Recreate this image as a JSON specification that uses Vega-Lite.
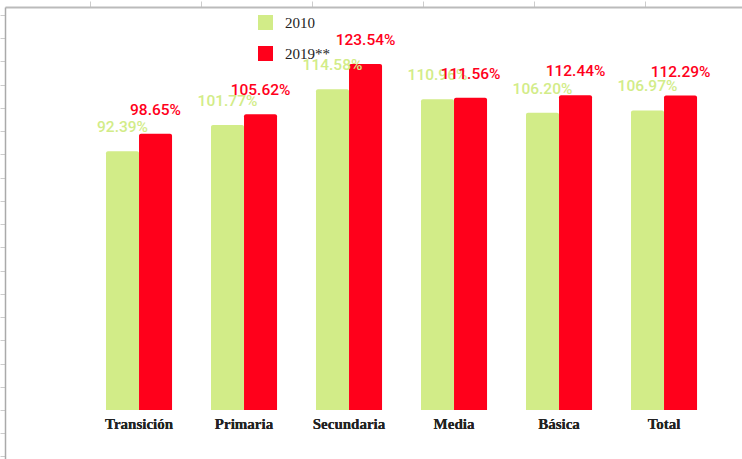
{
  "$schema": "https://vega.github.io/schema/vega-lite/v6.json",
  "width": 737,
  "height": 452,
  "autosize": {"type": "none"},
  "padding": {"left": 5, "top": 7, "right": 0, "bottom": 0},
  "background": "white",
  "config": {"view": {"stroke": null}},
  "data": {
    "values": [
      {"nivel": "Transición", "anio": "2010", "valor": 92.39, "etiqueta": "92.39%"},
      {"nivel": "Transición", "anio": "2019**", "valor": 98.65, "etiqueta": "98.65%"},
      {"nivel": "Primaria", "anio": "2010", "valor": 101.77, "etiqueta": "101.77%"},
      {"nivel": "Primaria", "anio": "2019**", "valor": 105.62, "etiqueta": "105.62%"},
      {"nivel": "Secundaria", "anio": "2010", "valor": 114.58, "etiqueta": "114.58%"},
      {"nivel": "Secundaria", "anio": "2019**", "valor": 123.54, "etiqueta": "123.54%"},
      {"nivel": "Media", "anio": "2010", "valor": 110.96, "etiqueta": "110.96%"},
      {"nivel": "Media", "anio": "2019**", "valor": 111.56, "etiqueta": "111.56%"},
      {"nivel": "Básica", "anio": "2010", "valor": 106.2, "etiqueta": "106.20%"},
      {"nivel": "Básica", "anio": "2019**", "valor": 112.44, "etiqueta": "112.44%"},
      {"nivel": "Total", "anio": "2010", "valor": 106.97, "etiqueta": "106.97%"},
      {"nivel": "Total", "anio": "2019**", "valor": 112.29, "etiqueta": "112.29%"}
    ]
  },
  "encoding": {
    "x": {
      "field": "nivel",
      "type": "nominal",
      "sort": ["Transición", "Primaria", "Secundaria", "Media", "Básica", "Total"],
      "scale": {"type": "band", "paddingInner": 0.371, "paddingOuter": 0.695, "align": 0.692},
      "axis": {
        "title": null,
        "orient": "bottom",
        "offset": -49,
        "domain": false,
        "ticks": false,
        "tickSize": 0,
        "labelAngle": 0,
        "labelPadding": 6,
        "labelFont": "Liberation Serif",
        "labelFontWeight": "bold",
        "labelFontSize": 15,
        "labelColor": "#222222"
      }
    },
    "xOffset": {
      "field": "anio",
      "type": "nominal",
      "sort": ["2010", "2019**"],
      "scale": {"type": "band", "paddingInner": 0, "paddingOuter": 0}
    },
    "y": {
      "field": "valor",
      "type": "quantitative",
      "scale": {"domain": [-17.5, 143.93], "nice": false, "zero": false},
      "axis": {
        "title": null,
        "labels": false,
        "grid": false,
        "values": [-16.6, -8.3, 0, 8.3, 16.6, 24.9, 33.2, 41.5, 49.8, 58.1, 66.4, 74.7, 83, 91.3, 99.6, 107.9, 116.2, 124.5, 132.8, 141.1],
        "domainColor": "#aaaaaa",
        "domainWidth": 1.5,
        "tickColor": "#cccccc",
        "tickSize": 5,
        "tickWidth": 1
      }
    }
  },
  "layer": [
    {
      "mark": {"type": "bar", "cornerRadiusTopLeft": 2, "cornerRadiusTopRight": 2},
      "encoding": {
        "y2": {"datum": 0},
        "color": {
          "field": "anio",
          "type": "nominal",
          "sort": ["2010", "2019**"],
          "scale": {"domain": ["2010", "2019**"], "range": ["#d2ec88", "#ff001b"]},
          "legend": {
            "title": null,
            "orient": "none",
            "legendX": 253,
            "legendY": 8,
            "padding": 0,
            "symbolType": "square",
            "symbolSize": 225,
            "symbolStrokeWidth": 0,
            "rowPadding": 15,
            "labelOffset": 12,
            "labelFont": "Liberation Serif",
            "labelFontSize": 15,
            "labelColor": "#222222"
          }
        }
      }
    },
    {
      "mark": {"type": "text", "font": "Roboto", "fontSize": 15.5, "fontWeight": 500, "align": "center", "baseline": "alphabetic", "dy": -19},
      "encoding": {
        "text": {"field": "etiqueta"},
        "color": {"field": "anio", "type": "nominal", "legend": null}
      }
    },
    {
      "mark": {"type": "rule", "opacity": 0},
      "encoding": {
        "x": {
          "datum": 0,
          "type": "quantitative",
          "scale": {"domain": [-0.766, 5.874], "nice": false, "zero": false},
          "axis": {
            "orient": "top",
            "title": null,
            "labels": false,
            "grid": false,
            "values": [0, 1, 2, 3, 4, 5],
            "domainColor": "#bbbbbb",
            "domainWidth": 2,
            "tickColor": "#cccccc",
            "tickSize": 6,
            "tickWidth": 1
          }
        },
        "xOffset": null
      }
    }
  ],
  "resolve": {"scale": {"x": "independent"}, "axis": {"x": "independent"}}
}
